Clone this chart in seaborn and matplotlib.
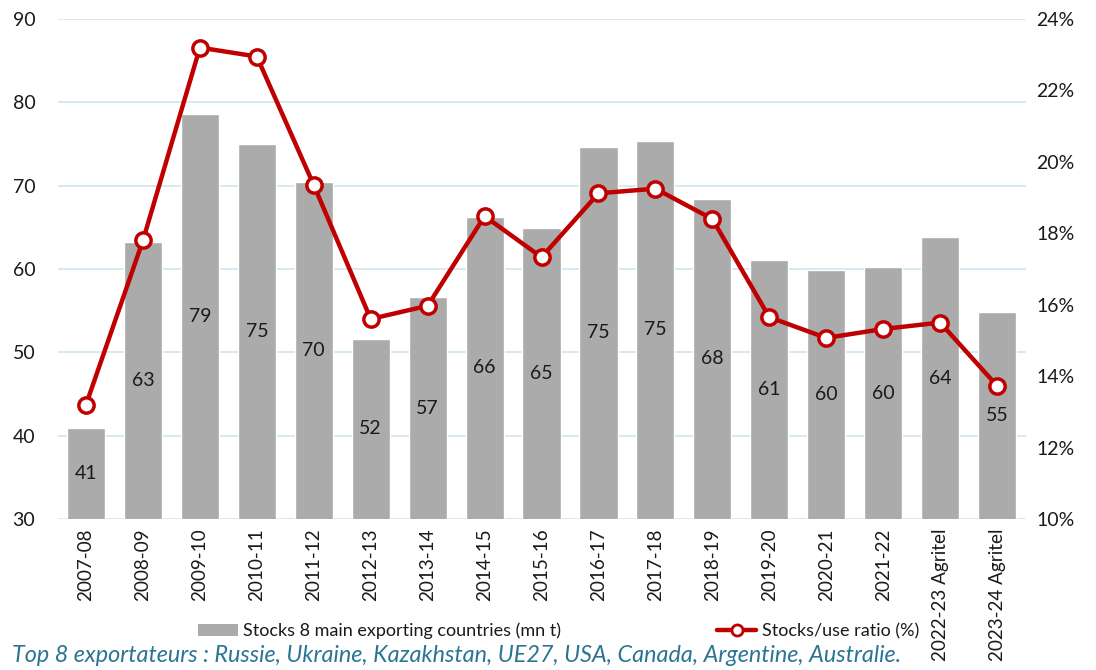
import numpy as np
import pandas as pd
import matplotlib
matplotlib.use("Agg")
import matplotlib.pyplot as plt
import seaborn as sns
from matplotlib.lines import Line2D
from matplotlib.patches import Patch
from matplotlib.ticker import FuncFormatter

categories = ["2007-08", "2008-09", "2009-10", "2010-11", "2011-12", "2012-13",
              "2013-14", "2014-15", "2015-16", "2016-17", "2017-18", "2018-19",
              "2019-20", "2020-21", "2021-22", "2022-23 Agritel", "2023-24 Agritel"]
stocks = [40.9, 63.2, 78.6, 75.0, 70.4, 51.6, 56.6, 66.3, 64.9, 74.7, 75.4, 68.4,
          61.1, 59.9, 60.2, 63.8, 54.8]
stock_labels = [41, 63, 79, 75, 70, 52, 57, 66, 65, 75, 75, 68, 61, 60, 60, 64, 55]
ratio = [13.2, 17.8, 23.2, 22.95, 19.35, 15.6, 15.97, 18.48, 17.33, 19.12, 19.25, 18.4,
         15.65, 15.07, 15.32, 15.5, 13.73]

left_ticks = [30, 40, 50, 60, 70, 80, 90]
right_ticks = [10, 12, 14, 16, 18, 20, 22, 24]

bar_color = "#ababab"
line_color = "#c00000"
grid_color = "#cde6ef"
text_color = "#1a1a1a"

sns.set_theme(style="white")
plt.rcParams["font.family"] = ["Lato", "DejaVu Sans"]

df = pd.DataFrame({"cat": categories, "stocks": stocks, "ratio": ratio})

fig = plt.figure(figsize=(10.96, 6.70), dpi=100)
ax = fig.add_axes([0.0525, 0.2254, 0.8832, 0.7462])

sns.barplot(data=df, x="cat", y="stocks", color=bar_color, width=0.67,
            saturation=1, ax=ax, zorder=2)
ax.set_ylim(30, 90)
ax.set_yticks(left_ticks)
ax.set_xlim(-0.5, len(categories) - 0.5)
ax.grid(axis="y", color=grid_color, linewidth=1.2, zorder=0)
ax.set_axisbelow(True)
for s in ax.spines.values():
    s.set_visible(False)
ax.set_xlabel("")
ax.set_ylabel("")
ax.tick_params(axis="both", length=0, labelsize=14, colors=text_color)
ax.tick_params(axis="y", pad=16)
ax.set_xticks(range(len(categories)))
ax.set_xticklabels(categories, rotation=90, fontsize=13.6, color=text_color)
ax.tick_params(axis="x", pad=7)

for i, (v, lab) in enumerate(zip(stocks, stock_labels)):
    ax.text(i, 30 + (v - 30) / 2, str(lab), ha="center", va="center",
            fontsize=14, color=text_color, zorder=5)

ax2 = ax.twinx()
sns.lineplot(x=np.arange(len(categories)), y=ratio, ax=ax2, color=line_color,
             linewidth=3.2, marker="o", markersize=11, markerfacecolor="white",
             markeredgecolor=line_color, markeredgewidth=2.5, zorder=6)
ax2.set_ylim(10, 24)
ax2.set_yticks(right_ticks)
ax2.yaxis.set_major_formatter(FuncFormatter(lambda v, p: f"{v:.0f}%"))
ax2.tick_params(axis="y", length=0, labelsize=14, colors=text_color, pad=8)
for s in ax2.spines.values():
    s.set_visible(False)
ax2.grid(False)
ax2.set_ylabel("")

handles = [Patch(facecolor=bar_color, edgecolor="none"),
           Line2D([0], [0], color=line_color, linewidth=3.2, marker="o",
                  markersize=8, markerfacecolor="white", markeredgecolor=line_color,
                  markeredgewidth=2)]
labels = ["Stocks 8 main exporting countries (mn t)", "Stocks/use ratio (%)"]
fig.legend(handles, labels, loc="center left", bbox_to_anchor=(182 / 1096, 1 - 631 / 670),
           ncol=2, frameon=False, fontsize=13, handlelength=2.2, handletextpad=0.3,
           columnspacing=8.6, labelcolor=text_color)

fig.text(12 / 1096, 1 - 656 / 670,
         "Top 8 exportateurs : Russie, Ukraine, Kazakhstan, UE27, USA, Canada, Argentine, Australie.",
         fontsize=16.8, style="italic", color="#2b7592", ha="left", va="center")

fig.savefig("out.png", dpi=100)
